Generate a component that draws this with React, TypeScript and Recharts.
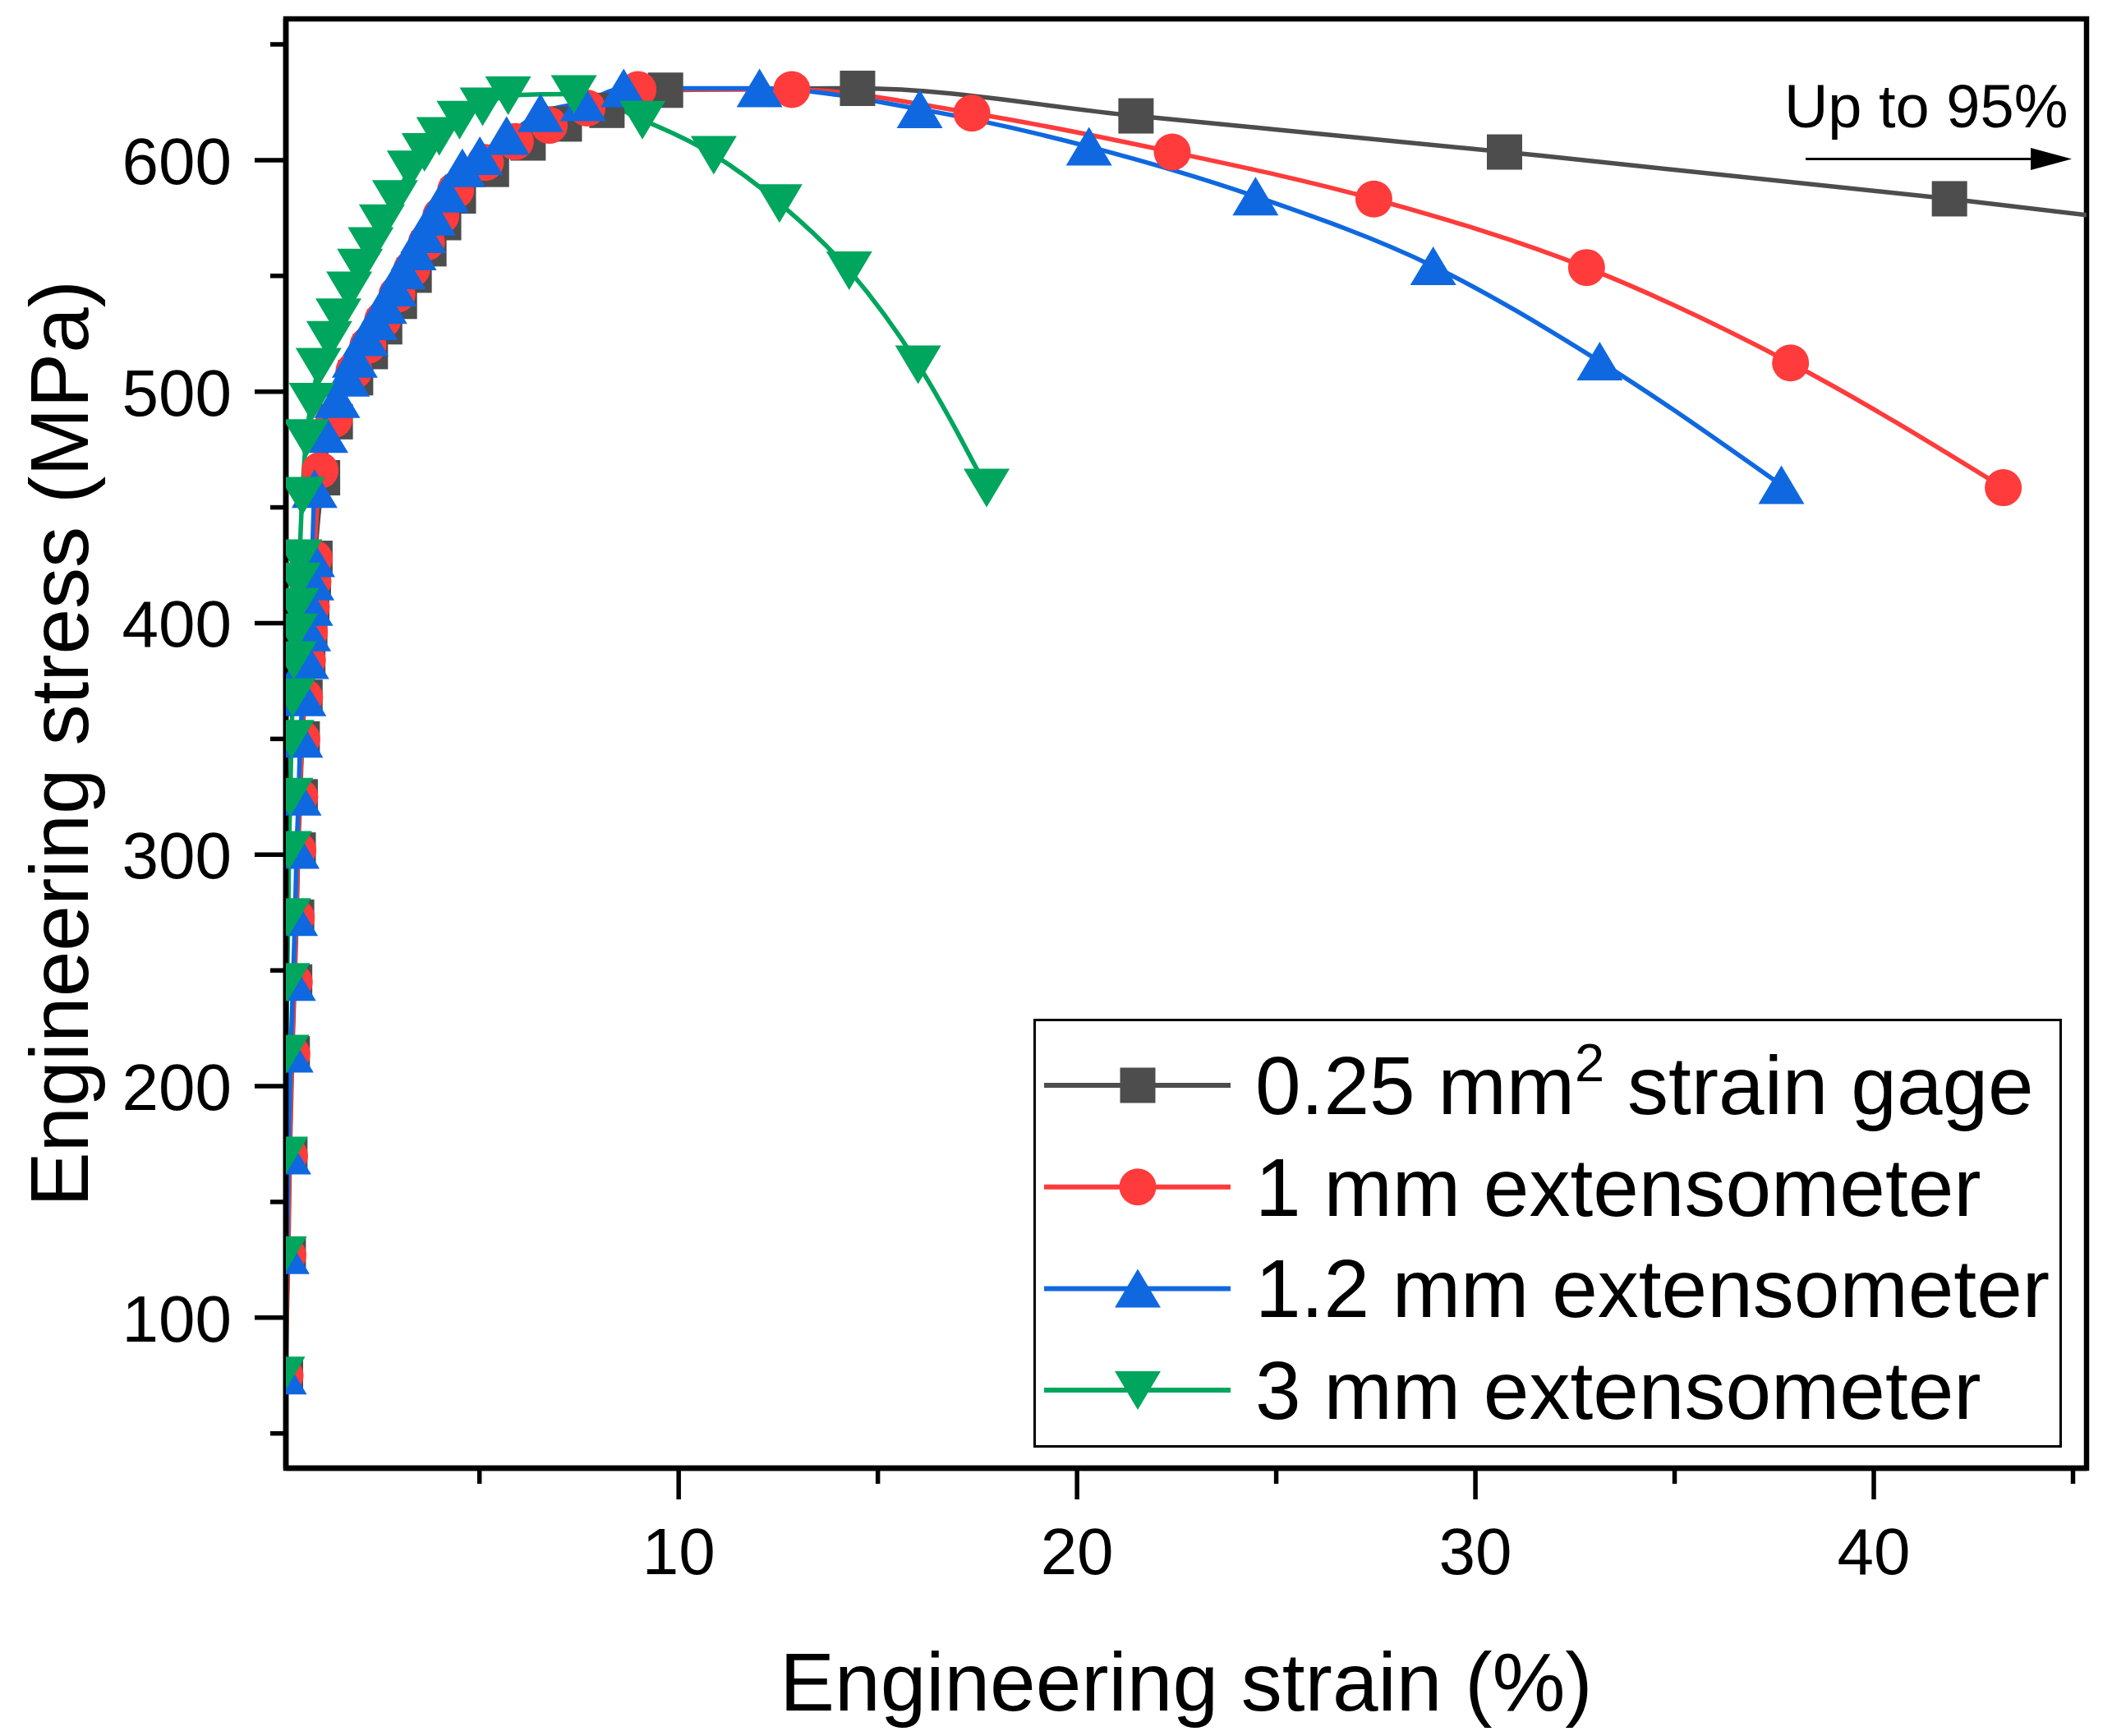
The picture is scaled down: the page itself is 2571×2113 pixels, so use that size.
import React from 'react';
import {
  ComposedChart,
  Line,
  XAxis,
  YAxis,
  Legend,
  ReferenceArea,
  ReferenceLine,
  ReferenceDot,
} from 'recharts';

const FONT = '"Liberation Sans", Arial, Helvetica, sans-serif';

// ---- data ----
const gageStrain = [0.13, 0.2, 0.24, 0.3, 0.36, 0.41, 0.45, 0.5, 0.55, 0.62, 0.69, 0.74, 0.79, 0.83, 0.87,
  1.06, 1.38, 1.89, 2.26, 2.62, 2.99, 3.36, 3.73, 4.1, 4.47, 5.3, 6.22, 7.13, 8.2, 9.67,
  14.49, 21.48, 30.73, 41.9, 48.0];
const gageStress = [75, 127, 170, 214, 245, 273, 302, 325, 350, 368, 384, 396, 407, 418, 428,
  462.8, 487, 506, 517.3, 528, 539, 550.3, 561.7, 573, 584.5, 596, 607.4, 615.6, 621.5, 630.2,
  631, 619.1, 603.5, 583.3, 570.8];

const ext1Strain = [0.12, 0.19, 0.23, 0.29, 0.35, 0.4, 0.44, 0.49, 0.54, 0.61, 0.68, 0.73, 0.78, 0.82, 0.85,
  1.0, 1.35, 1.85, 2.2, 2.57, 2.93, 3.3, 3.67, 4.03, 4.4, 5.15, 5.9, 6.75, 7.7, 8.98,
  12.84, 17.36, 22.39, 27.45, 32.79, 37.91, 43.25];
const ext1Stress = [75, 127, 170, 214, 245, 273, 302, 325, 350, 368, 384, 396, 407, 418, 428,
  466, 488, 509, 520, 531, 542, 553, 564.5, 576, 587, 599, 608, 615, 622.5, 630.5,
  630.5, 620.3, 603.5, 583.2, 553.6, 512.4, 458.5];

const ext12Strain = [0.09, 0.16, 0.2, 0.26, 0.32, 0.37, 0.41, 0.46, 0.5, 0.58, 0.65, 0.7, 0.75, 0.78, 0.8,
  0.86, 1.13, 1.43, 1.67, 1.87, 2.14, 2.37, 2.61, 2.85, 3.08, 3.35, 3.59, 3.83, 4.16, 4.57, 5.01, 5.68, 6.53, 7.6, 8.62,
  12.03, 16.05, 20.3, 24.48, 28.94, 33.12, 37.68];
const ext12Stress = [75, 127, 170, 214, 245, 273, 302, 325, 350, 368, 384, 396, 407, 418, 428,
  457.9, 481.7, 496.8, 506, 514.2, 523.5, 530.4, 537.4, 545, 552.4, 560.6, 568, 575.6, 585.5, 596.5, 601.7, 610.4, 620.3, 625, 631,
  631, 622, 605.8, 584.3, 554.2, 513, 459.6];

const ext3Strain = [0.05, 0.09, 0.12, 0.15, 0.17, 0.2, 0.22, 0.25, 0.28, 0.31, 0.34, 0.37, 0.4, 0.44, 0.48, 0.55,
  0.65, 0.79, 0.96, 1.23, 1.46, 1.73, 2.0, 2.27, 2.55, 2.88, 3.25, 3.62, 3.99, 4.5, 5.08, 5.72, 7.37,
  9.09, 10.88, 12.53, 14.28, 16.01, 17.73];
const ext3Stress = [75, 127, 170, 214, 245, 273, 302, 325, 350, 368, 384, 396, 407, 418, 428, 455,
  479.9, 495.6, 510.7, 522.3, 532.1, 543.7, 553.6, 562.9, 572.7, 583.2, 596, 603.5, 610.4, 617.4, 623.2, 628, 628.5,
  617.4, 602.3, 581.4, 552.4, 511.8, 458.5];

const xMajorTicks = [10, 20, 30, 40];
const xAllTicks = [5, 10, 15, 20, 25, 30, 35, 40, 45];
const yMajorTicks = [100, 200, 300, 400, 500, 600];
const yAllTicks = [50, 100, 150, 200, 250, 300, 350, 400, 450, 500, 550, 600, 650];
const X_DOMAIN: [number, number] = [0.14, 45.34];
const Y_DOMAIN: [number, number] = [35, 661];

const zip = (xs: number[], ys: number[]) => xs.map((x, i) => ({ x, y: ys[i] }));

type Shape = 'square' | 'circle' | 'up' | 'down';
const series: { key: string; label: string; data: { x: number; y: number }[]; color: string; shape: Shape }[] = [
  { key: 'gage', label: '0.25 mm2 strain gage', data: zip(gageStrain, gageStress), color: '#4D4D4D', shape: 'square' },
  { key: 'ext1', label: '1 mm extensometer', data: zip(ext1Strain, ext1Stress), color: '#FF3B3B', shape: 'circle' },
  { key: 'ext12', label: '1.2 mm extensometer', data: zip(ext12Strain, ext12Stress), color: '#0F68E0', shape: 'up' },
  { key: 'ext3', label: '3 mm extensometer', data: zip(ext3Strain, ext3Stress), color: '#00A65D', shape: 'down' },
];

function Marker({ cx, cy, shape, color }: { cx: number; cy: number; shape: Shape; color: string }) {
  if (cx == null || cy == null || Number.isNaN(cx) || Number.isNaN(cy)) return null;
  switch (shape) {
    case 'square':
      return <rect x={cx - 21.5} y={cy - 21.5} width={43} height={43} fill={color} />;
    case 'circle':
      return <circle cx={cx} cy={cy} r={22.5} fill={color} />;
    case 'up':
      return <path d={`M${cx},${cy - 24}L${cx + 28},${cy + 23}L${cx - 28},${cy + 23}Z`} fill={color} />;
    case 'down':
      return <path d={`M${cx},${cy + 24}L${cx + 28},${cy - 23}L${cx - 28},${cy - 23}Z`} fill={color} />;
  }
  return null;
}

const XTick = (props: any) => {
  const { x, y, payload } = props;
  const v = payload.value;
  const major = xMajorTicks.includes(v);
  return (
    <g>
      <line x1={x} x2={x} y1={y} y2={y + (major ? 38 : 19)} stroke="#000" strokeWidth={5.5} />
      {major && (
        <text x={x} y={y + 129} textAnchor="middle" fontSize={80} fontFamily={FONT} fill="#000">
          {v}
        </text>
      )}
    </g>
  );
};

const YTick = (props: any) => {
  const { x, y, payload } = props;
  const v = payload.value;
  const major = yMajorTicks.includes(v);
  return (
    <g>
      <line x1={x} x2={x - (major ? 38 : 19)} y1={y} y2={y} stroke="#000" strokeWidth={5.5} />
      {major && (
        <text x={x - 66} y={y + 29} textAnchor="end" fontSize={80} fontFamily={FONT} fill="#000">
          {v}
        </text>
      )}
    </g>
  );
};

const renderLegend = () => (
  <svg width={1252} height={522} style={{ display: 'block' }}>
    <rect x={1.5} y={1.5} width={1249} height={519} fill="#fff" stroke="#000" strokeWidth={3} />
    {series.map((s, i) => {
      const cy = 81 + i * 123.7;
      return (
        <g key={s.key}>
          <line x1={13} x2={240} y1={cy} y2={cy} stroke={s.color} strokeWidth={6} />
          <Marker cx={127} cy={cy} shape={s.shape} color={s.color} />
          <text x={270} y={cy + 35} fontSize={100} fontFamily={FONT} fill="#000">
            {s.key === 'gage' ? (
              <>
                0.25 mm
                <tspan dy={-40} fontSize={65}>2</tspan>
                <tspan dy={40}> strain gage</tspan>
              </>
            ) : (
              s.label
            )}
          </text>
        </g>
      );
    })}
  </svg>
);

export default function App() {
  return (
    <div style={{ width: 2563, height: 2105, background: '#fff' }}>
      <ComposedChart width={2563} height={2105} margin={{ top: 15, right: 31, bottom: 0, left: 0 }}>
        <XAxis
          type="number"
          dataKey="x"
          domain={X_DOMAIN}
          allowDataOverflow
          ticks={xAllTicks}
          interval={0}
          tick={<XTick />}
          tickLine={false}
          tickSize={0}
          tickMargin={0}
          axisLine={{ stroke: '#000', strokeWidth: 6.5 }}
          height={326}
          label={{
            content: () => (
              <text x={1436} y={2074} textAnchor="middle" fontSize={100} fontFamily={FONT} fill="#000">
                Engineering strain (%)
              </text>
            ),
          }}
        />
        <YAxis
          type="number"
          dataKey="y"
          domain={Y_DOMAIN}
          allowDataOverflow
          ticks={yAllTicks}
          interval={0}
          tick={<YTick />}
          tickLine={false}
          tickSize={0}
          tickMargin={0}
          axisLine={{ stroke: '#000', strokeWidth: 6.5 }}
          width={340}
          label={{
            content: () => (
              <text
                x={99}
                y={897}
                transform="rotate(-90 99 897)"
                textAnchor="middle"
                fontSize={100}
                fontFamily={FONT}
                fill="#000"
              >
                Engineering stress (MPa)
              </text>
            ),
          }}
        />
        <ReferenceArea
          x1={X_DOMAIN[0]}
          x2={X_DOMAIN[1]}
          y1={Y_DOMAIN[0]}
          y2={Y_DOMAIN[1]}
          fill="none"
          fillOpacity={0}
          stroke="#000"
          strokeWidth={6.5}
          ifOverflow="visible"
        />
        {series.map((s) => (
          <Line
            key={s.key}
            data={s.data}
            dataKey="y"
            name={s.label}
            type="monotone"
            stroke={s.color}
            strokeWidth={5.5}
            dot={(p: any) => <Marker key={`${s.key}-${p.index}`} cx={p.cx} cy={p.cy} shape={s.shape} color={s.color} />}
            activeDot={false}
            isAnimationActive={false}
          />
        ))}
        <ReferenceLine
          segment={[
            { x: 38.29, y: 600.5 },
            { x: 43.94, y: 600.5 },
          ]}
          stroke="#000"
          strokeWidth={3}
        />
        <ReferenceDot
          x={44.97}
          y={600.5}
          r={1}
          shape={(p: any) => (
            <path d={`M${p.cx},${p.cy}L${p.cx - 50},${p.cy - 13.5}L${p.cx - 50},${p.cy + 13.5}Z`} fill="#000" />
          )}
        />
        <ReferenceDot
          x={37.75}
          y={614.2}
          r={1}
          shape={(p: any) => (
            <text x={p.cx} y={p.cy} fontSize={74} fontFamily={FONT} fill="#000">
              Up to 95%
            </text>
          )}
        />
        <Legend
          layout="vertical"
          align="center"
          verticalAlign="middle"
          content={renderLegend}
          wrapperStyle={{ position: 'absolute', left: 1250, top: 1232, width: 1252, height: 522 }}
        />
      </ComposedChart>
    </div>
  );
}
